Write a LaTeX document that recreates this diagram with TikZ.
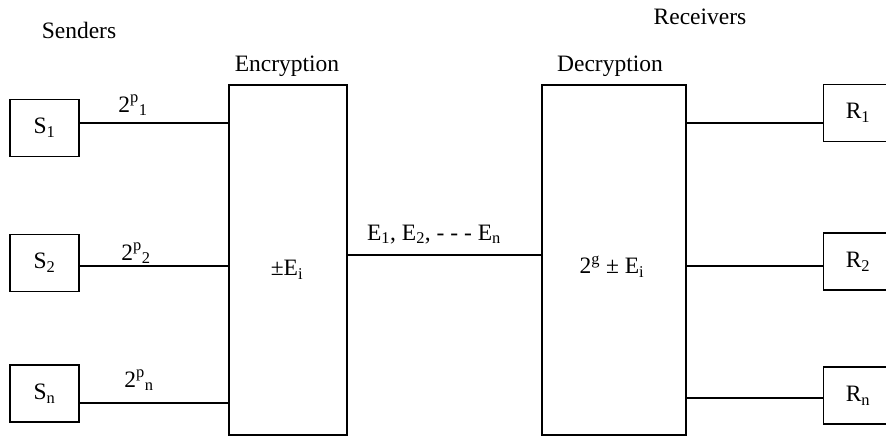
\documentclass[tikz,border=0pt]{standalone}
\usepackage{fontspec}
\setmainfont{Liberation Serif}
\begin{document}
\begin{tikzpicture}[x=1pt,y=-1pt,
  every node/.style={font=\fontsize{23.5}{28}\selectfont, inner sep=0pt},
  unit/.style={draw, line width=1.5pt, minimum width=69pt, minimum height=57pt},
  stage/.style={draw, line width=1.5pt, minimum height=350pt},
  link/.style={line width=1.5pt},
  lbl/.style={anchor=base}]
\clip (0,0) rectangle (886,436);
\useasboundingbox (0,0) rectangle (886,436);

% processing stages
\node[stage, minimum width=118pt] (enc) at (288,260) {};
\node[stage, minimum width=144pt] (dec) at (614,260) {};
\node at (287,270) {±E\textsubscript{i}};
\node at (612,267) {2\textsuperscript{g} ± E\textsubscript{i}};

% senders
\node[unit] (s1) at (44.5,128) {S\textsubscript{1}};
\node[unit] (s2) at (44.5,263) {S\textsubscript{2}};
\node[unit] (sn) at (44.5,393.5) {S\textsubscript{n}};

% receivers (boxes run past the right edge)
\node[unit] (r1) at (858,113) {R\textsubscript{1}};
\node[unit] (r2) at (858,261.5) {R\textsubscript{2}};
\node[unit] (rn) at (858,395.5) {R\textsubscript{n}};

% line heights
\coordinate (h1) at (0,123);
\coordinate (h2) at (0,266);
\coordinate (hn) at (0,403);
\coordinate (hm) at (0,255);
\coordinate (k1) at (0,123);
\coordinate (k2) at (0,266);
\coordinate (kn) at (0,398);

\draw[link] (s1.east |- h1) -- (enc.west |- h1);
\draw[link] (s2.east |- h2) -- (enc.west |- h2);
\draw[link] (sn.east |- hn) -- (enc.west |- hn);
\draw[link] (enc.east |- hm) -- (dec.west |- hm);
\draw[link] (dec.east |- k1) -- (r1.west |- k1);
\draw[link] (dec.east |- k2) -- (r2.west |- k2);
\draw[link] (dec.east |- kn) -- (rn.west |- kn);

% titles and labels
\node[lbl] at (79,39) {Senders};
\node[lbl] at (700,25) {Receivers};
\node[lbl] at (287,71) {Encryption};
\node[lbl] at (610,72) {Decryption};
\node[lbl] at (133,112) {2\textsuperscript{p}\textsubscript{1}};
\node[lbl] at (136,260) {2\textsuperscript{p}\textsubscript{2}};
\node[lbl] at (139,387) {2\textsuperscript{p}\textsubscript{n}};
\node[lbl] at (434,240) {E\textsubscript{1}, E\textsubscript{2}, - - - E\textsubscript{n}};
\end{tikzpicture}
\end{document}
